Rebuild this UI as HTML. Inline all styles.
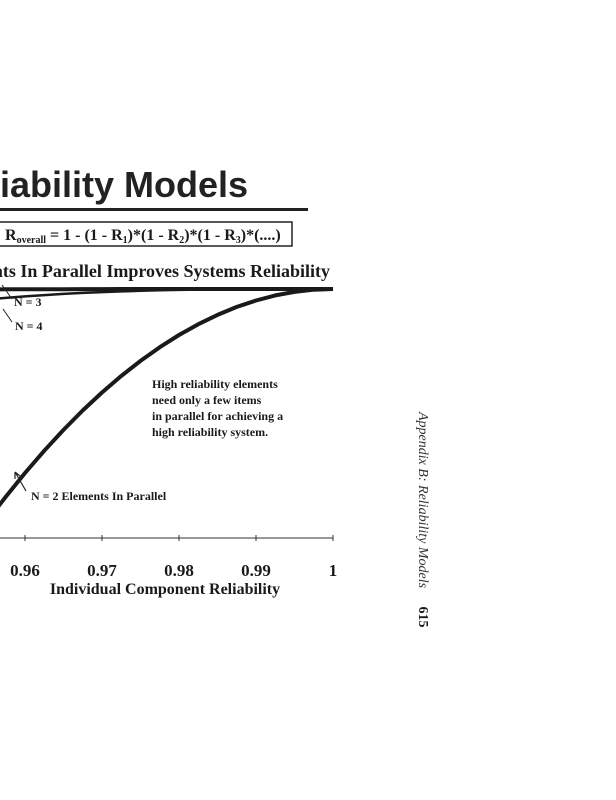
<!DOCTYPE html>
<html><head><meta charset="utf-8"><style>
html,body{margin:0;padding:0;background:#fff;width:616px;height:800px;overflow:hidden}
svg{display:block}
.b{font-family:"Liberation Serif",serif;font-weight:bold;fill:#1a1a1a}
</style></head><body>
<svg width="616" height="800">
<text x="248" y="197" text-anchor="end" font-family="Liberation Sans,sans-serif" font-weight="bold" font-size="36" fill="#222">Reliability Models</text>
<rect x="0" y="208" width="308" height="3" fill="#222"/>
<rect x="-5" y="222" width="297" height="24" fill="none" stroke="#222" stroke-width="1.5"/>
<text x="5" y="240" class="b" font-size="16">R<tspan font-size="10" dy="3">overall</tspan><tspan dy="-3"> = 1 - (1 - R</tspan><tspan font-size="10" dy="3">1</tspan><tspan dy="-3">)*(1 - R</tspan><tspan font-size="10" dy="3">2</tspan><tspan dy="-3">)*(1 - R</tspan><tspan font-size="10" dy="3">3</tspan><tspan dy="-3">)*(....)</tspan></text>
<text x="330" y="277" text-anchor="end" class="b" font-size="18">Elements In Parallel Improves Systems Reliability</text>
<g id="plot"></g>
<text x="14" y="306" class="b" font-size="12">N = 3</text>
<path d="M12,299 L2,285" stroke="#222" stroke-width="1" fill="none"/>
<text x="15" y="330" class="b" font-size="12">N = 4</text>
<path d="M12,322 L3,309" stroke="#222" stroke-width="1" fill="none"/>
<g class="b" font-size="12">
<text x="152" y="388">High reliability elements</text>
<text x="152" y="404">need only a few items</text>
<text x="152" y="420">in parallel for achieving a</text>
<text x="152" y="436">high reliability system.</text>
</g>
<text x="31" y="500" class="b" font-size="12">N = 2 Elements In Parallel</text>
<path d="M26,491 L15,472 M15,472 l0,7 M15,472 l5,4" stroke="#222" stroke-width="1.2" fill="none"/>
<text x="165" y="594" text-anchor="middle" class="b" font-size="16">Individual Component Reliability</text>
<text transform="translate(419,500) rotate(90)" text-anchor="middle" font-family="Liberation Serif,serif" font-style="italic" font-size="14" fill="#333">Appendix B: Reliability Models</text>
<text transform="translate(419,617) rotate(90)" text-anchor="middle" class="b" font-size="14">615</text>
</svg>
<script>
const xTicks=[0.96,0.97,0.98,0.99,1];
const xTickLabels=["0.96","0.97","0.98","0.99","1"];
const comp=[0.955,0.9575,0.96,0.9625,0.965,0.9675,0.97,0.9725,0.975,0.9775,0.98,0.9825,0.985,0.9875,0.99,0.9925,0.995,0.9975,1];
const n2=[0.997975,0.998194,0.9984,0.998594,0.998775,0.998944,0.9991,0.999244,0.999375,0.999494,0.9996,0.999694,0.999775,0.999844,0.9999,0.999944,0.999975,0.999994,1];
const n3=[0.999909,0.999923,0.999936,0.999947,0.999957,0.999966,0.999973,0.999979,0.999984,0.999989,0.999992,0.999995,0.999997,0.999998,0.999999,1,1,1,1];
const n4=[0.999996,0.999997,0.999997,0.999998,0.999998,0.999999,0.999999,1,1,1,1,1,1,1,1,1,1,1,1];
const X=v=>25+(v-0.96)*7700;
const Y=r=>289+(1-r)*115000;
const NS="http://www.w3.org/2000/svg";
const g=document.getElementById('plot');
function line(vals,w,name){
  const p=document.createElementNS(NS,'path');
  p.setAttribute('d',vals.map((v,i)=>(i?'L':'M')+X(comp[i]).toFixed(1)+','+Y(v).toFixed(1)).join(' '));
  p.setAttribute('stroke','#1a1a1a');p.setAttribute('stroke-width',w);p.setAttribute('fill','none');
  p.setAttribute('stroke-linejoin','round');
  
  
  g.appendChild(p);
}
line(n4,4,'series-n4');
line(n3,2.5,'series-n3');
line(n2,4,'series-n2');
const ax=document.createElementNS(NS,'line');
ax.setAttribute('x1',0);ax.setAttribute('x2',X(1));ax.setAttribute('y1',538);ax.setAttribute('y2',538);
ax.setAttribute('stroke','#333');ax.setAttribute('stroke-width',1);


g.appendChild(ax);
xTicks.forEach((t,i)=>{
  const tk=document.createElementNS(NS,'line');
  tk.setAttribute('x1',X(t));tk.setAttribute('x2',X(t));tk.setAttribute('y1',535);tk.setAttribute('y2',541);
  tk.setAttribute('stroke','#333');
  
  
  g.appendChild(tk);
  const tx=document.createElementNS(NS,'text');
  tx.setAttribute('x',X(t));tx.setAttribute('y',576);tx.setAttribute('text-anchor','middle');
  tx.setAttribute('class','b');tx.setAttribute('font-size','17');
  tx.textContent=xTickLabels[i];
  
  
  g.appendChild(tx);
});
</script>
</body></html>
